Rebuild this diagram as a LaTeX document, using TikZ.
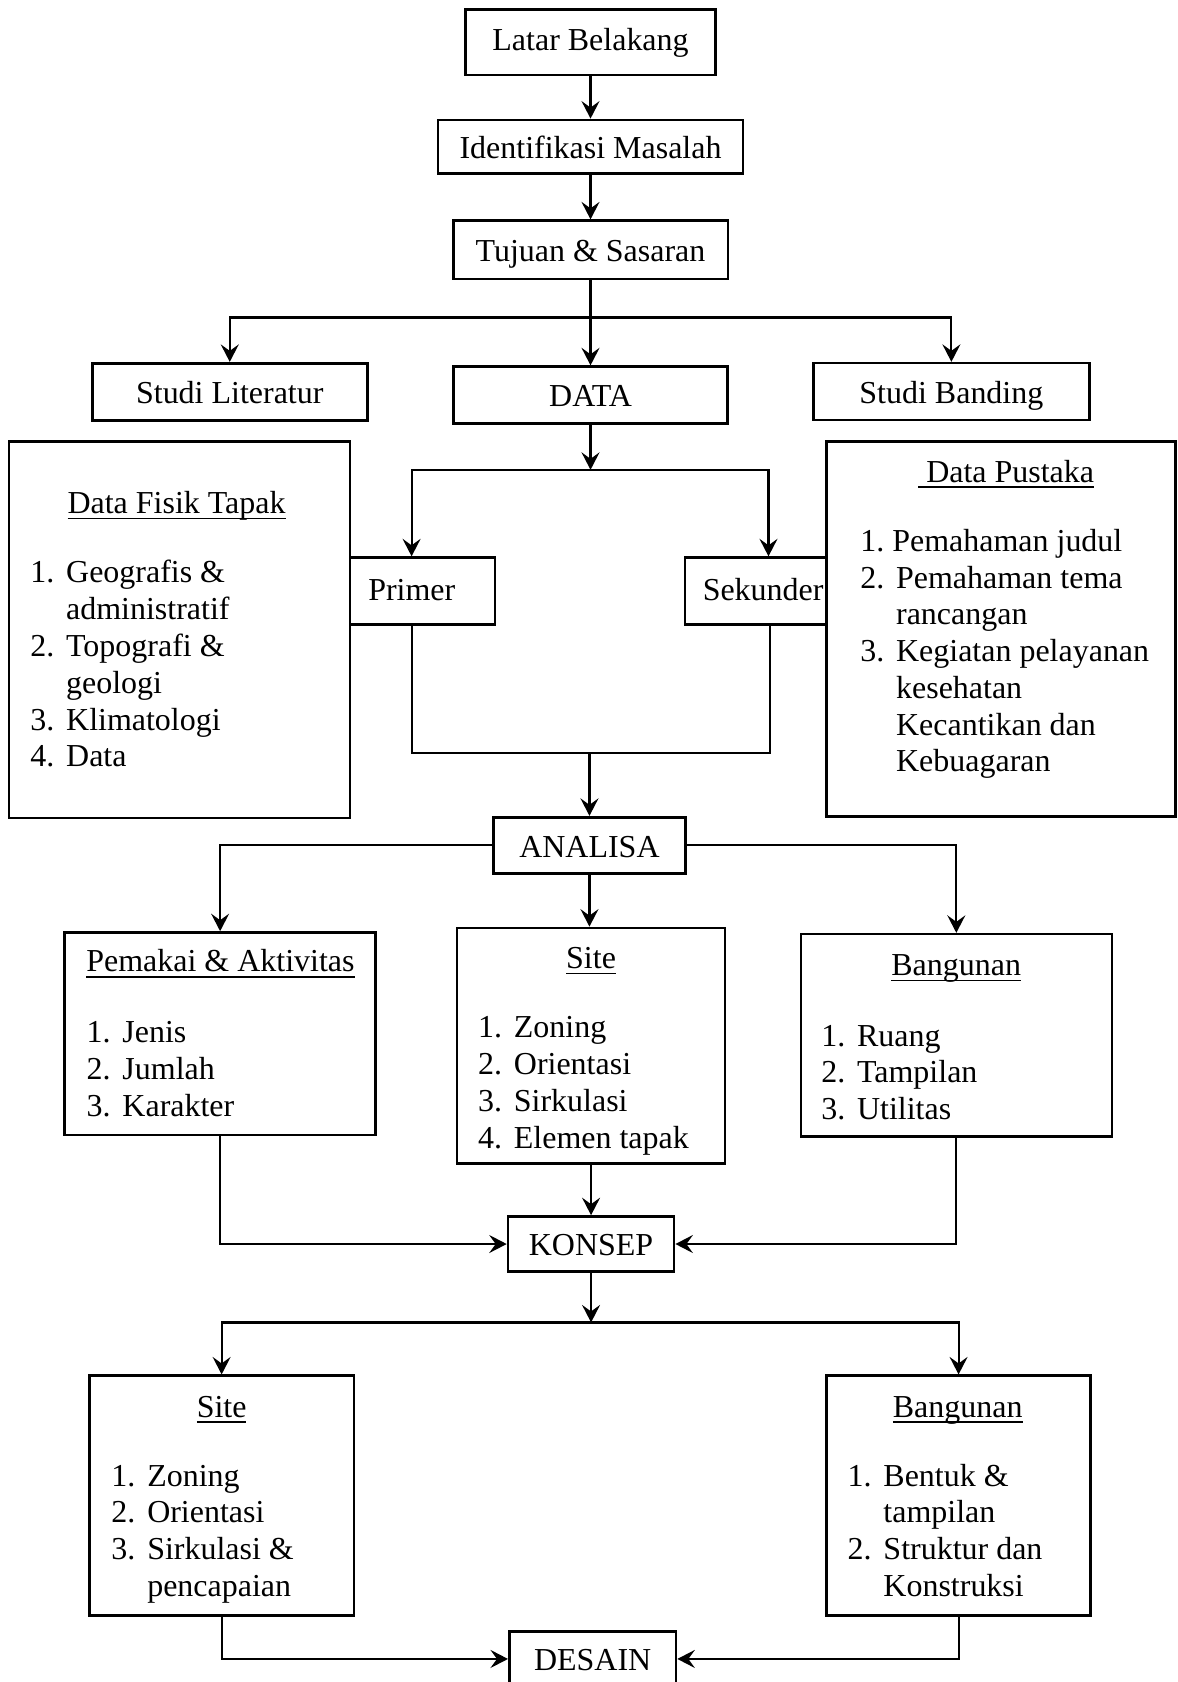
\documentclass[tikz,border=0pt]{standalone}
\usepackage{fontspec}
\setmainfont{Liberation Serif}
\usetikzlibrary{arrows.meta,calc,positioning}

\newlength{\px}
\setlength{\px}{0.2146mm}
\newsavebox{\ubox}
\newcommand{\garisbawah}[1]{\sbox{\ubox}{#1}\rlap{\rule[-3.2pt]{\wd\ubox}{0.9pt}}\usebox{\ubox}}
\newcommand{\sz}{\fontsize{18.2}{20.94}\selectfont}
\newcommand{\daftarisi}[1]{\begin{tabular}[t]{@{}l@{\hspace{11\px}}l@{}}#1\end{tabular}}

\tikzset{
  kotak/.style 2 args={draw, line width=1.5pt, inner sep=0pt,
    minimum width=#1*\px, minimum height=#2*\px,
    text height=1.35em, text depth=0em},
  panah/.style={line width=1.2pt, -{Stealth[length=3.5mm,width=3.6mm,inset=1.3mm]}},
  garis/.style={line width=1.2pt},
  judul/.style={inner sep=0pt, anchor=base},
  daftar/.style={inner sep=0pt, anchor=base west},
}

\begin{document}
\begin{tikzpicture}[x=0.2146mm, y=-0.2146mm, font=\sz]
    \useasboundingbox (0,0) rectangle (1098,1568);
    \clip (0,0) rectangle (1098,1568);

    % Boxes at the top
    \node[kotak={233}{61}, text height=0.95em] (latar) at (550.5,39.5) {Latar Belakang};
    \node[kotak={284.3}{49.8}] (identifikasi) at (550.5,136.7) {Identifikasi Masalah};
    \node[kotak={256}{54.3}] (tujuan) at (550.5,232.9) {Tujuan \& Sasaran};
    \node[kotak={256.4}{53.4}] (literatur) at (214.2,365.3) {Studi Literatur};
    \node[kotak={255.5}{52.8}] (data) at (550.5,368.2) {DATA};
    \node[kotak={257}{52.9}] (banding) at (886.9,365) {Studi Banding};

    % Data boxes
    \node[kotak={317.9}{351}] (fisik) at (167.4,587.2) {};
    \node[kotak={135.1}{62.1}] (primer) at (393.9,550.9) {};
    \node[kotak={131.7}{62.1}] (sekunder) at (704.5,550.9) {};
    \node[kotak={325.7}{349.5}] (pustaka) at (933.2,586.5) {};

    \node[judul] (fisikjudul) at (164.6,479) {\garisbawah{Data Fisik Tapak}};
    \node[daftar] (fisikisi) at (28,543.4) {\daftarisi{
        1. & Geografis \& \\ & administratif \\
        2. & Topografi \& \\ & geologi \\
        3. & Klimatologi \\
        4. & Data}};
    \node[daftar] (primerteks) at (343,559.5) {Primer};
    \node[daftar] (sekunderteks) at (654.8,559.5) {Sekunder};
    \node[daftar] (pustakajudul) at (855.7,449.5) {\garisbawah{\ Data Pustaka}};
    \node[daftar] (pustakaisi) at (801.7,513.9) {\daftarisi{
        \multicolumn{2}{@{}l@{}}{1.\ Pemahaman judul} \\
        2. & Pemahaman tema \\ & rancangan \\
        3. & Kegiatan pelayanan \\ & kesehatan \\ & Kecantikan dan \\ & Kebuagaran}};

    % Analisa
    \node[kotak={178.6}{52.2}] (analisa) at (549.5,787.9) {ANALISA};
    \node[kotak={290}{188.6}] (pemakai) at (205.2,963.6) {};
    \node[kotak={250}{219.3}] (site) at (551,974.7) {};
    \node[kotak={289.9}{188.7}] (bangunan) at (891.5,965.2) {};

    \node[judul] (pemakaijudul) at (205.5,906) {\garisbawah{Pemakai \& Aktivitas}};
    \node[daftar] (pemakaiisi) at (80.5,972) {\daftarisi{
        1. & Jenis \\ 2. & Jumlah \\ 3. & Karakter}};
    \node[judul] (sitejudul) at (551,903) {\garisbawah{Site}};
    \node[daftar] (siteisi) at (445.4,967.5) {\daftarisi{
        1. & Zoning \\ 2. & Orientasi \\ 3. & Sirkulasi \\ 4. & Elemen tapak}};
    \node[judul] (bangunanjudul) at (891.4,909.5) {\garisbawah{Bangunan}};
    \node[daftar] (bangunanisi) at (765.3,975.2) {\daftarisi{
        1. & Ruang \\ 2. & Tampilan \\ 3. & Utilitas}};

    % Konsep and desain
    \node[kotak={154.8}{51.3}] (konsep) at (551,1159.7) {KONSEP};
    \node[kotak={246.5}{223.4}] (sitekonsep) at (206.6,1394.2) {};
    \node[kotak={246.5}{223.4}] (bangunankonsep) at (893.6,1394.2) {};
    \node[kotak={155.4}{51.3}] (desain) at (552.5,1546.5) {DESAIN};

    \node[judul] (sitekonsepjudul) at (206.6,1321) {\garisbawah{Site}};
    \node[daftar] (sitekonsepisi) at (103.6,1385.3) {\daftarisi{
        1. & Zoning \\ 2. & Orientasi \\ 3. & Sirkulasi \& \\ & pencapaian}};
    \node[judul] (bangunankonsepjudul) at (892.8,1321) {\garisbawah{Bangunan}};
    \node[daftar] (bangunankonsepisi) at (789.9,1385.3) {\daftarisi{
        1. & Bentuk \& \\ & tampilan \\ 2. & Struktur dan \\ & Konstruksi}};

    % Arrows
    \draw[panah] (latar) -- (identifikasi);
    \draw[panah] (identifikasi) -- (tujuan);
    \coordinate (cabang1) at (550.5,296);
    \draw[panah] (tujuan) -- (data);
    \draw[panah] (cabang1) -| (literatur);
    \draw[panah] (cabang1) -| (banding);

    \coordinate (cabang2) at (550.5,438);
    \draw[panah] (data) -- (cabang2);
    \draw[panah] (cabang2) -| ($(primer.north)+(-10.2,0)$);
    \draw[panah] (cabang2) -| ($(sekunder.north)+(11.9,0)$);
    \coordinate (gabung) at (549.5,702.2);
    \draw[garis] ($(primer.south)+(-10.2,0)$) |- (gabung) -| ($(sekunder.south)+(13.3,0)$);
    \draw[panah] (gabung) -- (analisa);

    \draw[panah] (analisa) -| (pemakai);
    \draw[panah] (analisa) -- (analisa |- site.north);
    \draw[panah] (analisa) -| (bangunan);

    \draw[panah] (pemakai) |- (konsep);
    \draw[panah] (site) -- (konsep);
    \draw[panah] (bangunan) |- (konsep);

    \coordinate (cabang3) at (551,1232.8);
    \draw[panah] (konsep) -- (cabang3);
    \draw[panah] (cabang3) -| (sitekonsep);
    \draw[panah] (cabang3) -| (bangunankonsep);
    \draw[panah] (sitekonsep) |- (desain);
    \draw[panah] (bangunankonsep) |- (desain);

\end{tikzpicture}
\end{document}
